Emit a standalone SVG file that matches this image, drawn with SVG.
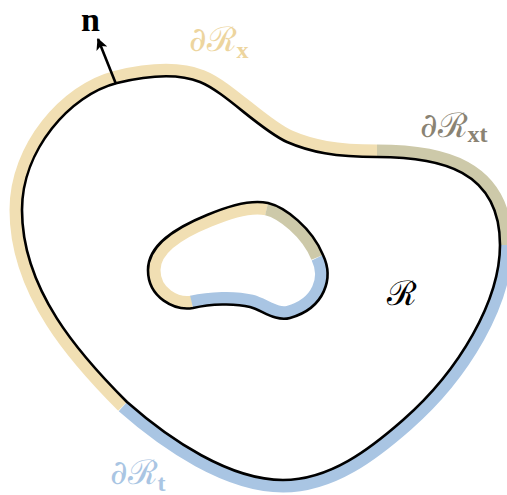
<svg xmlns="http://www.w3.org/2000/svg" width="507" height="495" viewBox="0 0 507 495">
<style>
.band{fill:none;stroke-width:25;stroke-linecap:butt;stroke-linejoin:round}
.y{stroke:#f1dfb3}.o{stroke:#cdc9a9}.b{stroke:#a9c5e3}
.edge{fill:none;stroke:#000;stroke-width:2.6;stroke-linejoin:round}
.lbl{font-family:"DejaVu Serif","Liberation Serif",serif;font-size:34px}
.sub{font-family:"Liberation Serif",serif;font-weight:bold;font-size:24px}
</style>
<defs>
<marker id="ah" viewBox="0 0 10 10" refX="9" refY="5" markerWidth="4.5" markerHeight="4.5" orient="auto" markerUnits="strokeWidth">
<path d="M0,0 L10,5 L0,10 L2.5,5 Z" fill="#000"/>
</marker>
</defs>
<g id="bands">
<path class="band y" d="M127,402 C80,355 22,290 22,210 C22,150 70,95 117,83 C150,75 180,74 200,82 C225,92 260,130 287,142 C310,152 335,157 377,157"/>
<path class="band o" d="M377,157 C440,157 500,170 500,245"/>
<path class="band b" d="M500,245 C500,300 460,370 403,420 C370,449 330,480 283,480 C230,480 170,440 127,402"/>
<path class="band y" d="M193,308 C175,311 148,298 148,270 C148,245 175,228 207,215 C228,206 250,199 268,203"/>
<path class="band o" d="M268,203 C285,207 312,228 323,255"/>
<path class="band b" d="M323,255 C334,278 325,308 290,318 C275,322 262,310 250,307 C235,303 210,304 193,308"/>
</g>
<g id="region">
<path fill="#fff" fill-rule="evenodd" d="M127,402 C80,355 22,290 22,210 C22,150 70,95 117,83 C150,75 180,74 200,82 C225,92 260,130 287,142 C310,152 335,157 377,157 C440,157 500,170 500,245 C500,300 460,370 403,420 C370,449 330,480 283,480 C230,480 170,440 127,402 Z M193,308 C175,311 148,298 148,270 C148,245 175,228 207,215 C228,206 250,199 268,203 C285,207 312,228 323,255 C334,278 325,308 290,318 C275,322 262,310 250,307 C235,303 210,304 193,308 Z"/>
<path class="edge" d="M127,402 C80,355 22,290 22,210 C22,150 70,95 117,83 C150,75 180,74 200,82 C225,92 260,130 287,142 C310,152 335,157 377,157 C440,157 500,170 500,245 C500,300 460,370 403,420 C370,449 330,480 283,480 C230,480 170,440 127,402 Z"/>
<path class="edge" d="M193,308 C175,311 148,298 148,270 C148,245 175,228 207,215 C228,206 250,199 268,203 C285,207 312,228 323,255 C334,278 325,308 290,318 C275,322 262,310 250,307 C235,303 210,304 193,308 Z"/>
<text class="lbl" x="387" y="305" font-size="44" fill="#000">ℛ</text>
</g>
<g id="connectors">
<line x1="116" y1="84" x2="98" y2="39" stroke="#000" stroke-width="2.6" marker-end="url(#ah)"/>
</g>
<g id="normal">
<text x="81" y="31" font-family="Liberation Serif, serif" font-weight="bold" font-size="34" fill="#000">n</text>
</g>
<g id="label-x" fill="#edd59e">
<text class="lbl" x="189" y="51">∂ℛ<tspan class="sub" dy="7">x</tspan></text>
</g>
<g id="label-xt" fill="#8a8373">
<text class="lbl" x="420" y="137">∂ℛ<tspan class="sub" dy="5">xt</tspan></text>
</g>
<g id="label-t" fill="#a9c5e3">
<text class="lbl" x="110" y="484">∂ℛ<tspan class="sub" dy="7">t</tspan></text>
</g>
</svg>
